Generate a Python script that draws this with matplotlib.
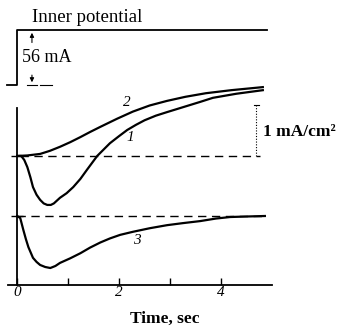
import matplotlib
matplotlib.use("Agg")
import matplotlib.pyplot as plt

plt.rcParams['font.family'] = ['Liberation Serif', 'DejaVu Serif']

# ---- data (time in s, current in mA/cm^2 relative to each trace baseline) ----
c1_t = [0, 0.08, 0.14, 0.2, 0.26, 0.31, 0.38, 0.45, 0.52, 0.59, 0.66, 0.72, 0.84, 0.97, 1.10, 1.24, 1.37, 1.57, 1.82, 2.0, 2.16, 2.33, 2.5, 2.72, 2.94, 3.2, 3.59, 3.84, 4.3, 4.82]
c1_v = [0, 0, -0.08, -0.22, -0.42, -0.61, -0.76, -0.86, -0.93, -0.96, -0.96, -0.93, -0.82, -0.73, -0.61, -0.45, -0.27, 0, 0.25, 0.39, 0.51, 0.61, 0.70, 0.79, 0.86, 0.94, 1.06, 1.14, 1.22, 1.29]

c2_t = [0, 0.2, 0.45, 0.64, 0.84, 1.04, 1.24, 1.43, 1.63, 1.96, 2.27, 2.6, 2.94, 3.3, 3.7, 4.2, 4.82]
c2_v = [0, 0.01, 0.04, 0.10, 0.18, 0.27, 0.37, 0.47, 0.57, 0.73, 0.87, 0.99, 1.08, 1.16, 1.23, 1.29, 1.35]

c3_t = [0, 0.06, 0.12, 0.17, 0.22, 0.31, 0.38, 0.45, 0.55, 0.65, 0.75, 0.84, 1.04, 1.24, 1.43, 1.63, 1.82, 2.02, 2.27, 2.6, 2.94, 3.25, 3.59, 3.9, 4.18, 4.5, 4.86]
c3_v = [0, -0.04, -0.27, -0.45, -0.61, -0.82, -0.90, -0.96, -1.00, -1.02, -0.98, -0.92, -0.83, -0.73, -0.62, -0.52, -0.44, -0.37, -0.31, -0.24, -0.18, -0.14, -0.10, -0.05, -0.02, -0.01, 0]

step_t = [-0.2, 0, 0, 4.9]
step_v = [0, 0, 1, 1]   # normalized inner-potential step

xtick_major = [0, 2, 4]
xtick_labels = ['0', '2', '4']
xtick_minor = [1, 3]

# ---- layout (vertical offsets of the stacked traces) ----
base12 = 2.53
base3 = 1.353
step_low = 3.92
step_amp = 1.08

fig = plt.figure(figsize=(3.46, 3.27), dpi=100)
ax = fig.add_axes([8/346, 42/327, 264/346, 285/327])
ax.set_xlim(-0.18, 5.0)
ax.set_ylim(0, 285/51)

for s in ['top', 'right']:
    ax.spines[s].set_visible(False)
ax.spines['left'].set_position(('data', 0))
ax.spines['left'].set_bounds(0, 3.47)
ax.spines['left'].set_linewidth(1.3)
ax.spines['bottom'].set_linewidth(1.3)

ax.set_xticks(xtick_major)
ax.set_xticklabels(xtick_labels, fontstyle='italic', fontsize=11)
ax.set_xticks(xtick_minor, minor=True)
ax.tick_params(axis='x', which='both', direction='in', length=5, width=1, pad=1)
ax.set_yticks([base3, base12])
ax.set_yticklabels([])
ax.tick_params(axis='y', direction='inout', length=9, width=1)
ax.set_xlabel('Time, sec', fontsize=12.5, fontweight='bold')
ax.xaxis.set_label_coords((165-8)/264, -0.09)

# baselines
ax.plot([0.06, 4.76], [base12, base12], ls=(0, (6, 4)), color='black', lw=1.0)
ax.plot([0.0, 4.86], [base3, base3], ls=(0, (6, 4)), color='black', lw=1.0)

# curves
ax.plot(c1_t, [v + base12 for v in c1_v], color='black', lw=1.6)
ax.plot(c2_t, [v + base12 for v in c2_v], color='black', lw=1.6)
ax.plot(c3_t, [v + base3 for v in c3_v], color='black', lw=1.6)

# inner potential step
ax.plot(step_t, [step_low + v * step_amp for v in step_v], color='black', lw=1.3, clip_on=False)
ax.annotate('', xy=(0.29, step_low + step_amp), xytext=(0.29, step_low + step_amp - 0.3),
            arrowprops=dict(arrowstyle='-|>', color='black', lw=0.8, mutation_scale=6))
ax.annotate('', xy=(0.29, step_low), xytext=(0.29, step_low + 0.25),
            arrowprops=dict(arrowstyle='-|>', color='black', lw=0.8, mutation_scale=6))
ax.plot([0.2, 0.38], [step_low, step_low], color='black', lw=0.8)
ax.plot([0.45, 0.68], [step_low, step_low], color='black', lw=0.8)
ax.text(0.10, step_low + 0.5 * step_amp, '56 mA', fontsize=13, va='center', ha='left')
ax.text(0.30, 5.25, 'Inner potential', fontsize=13.5, va='center', ha='left', clip_on=False)

# scale bar
ax.plot([4.69, 4.69], [base12, base12 + 1.0], color='black', lw=0.8, ls=(0, (1, 1.5)))
ax.plot([4.64, 4.74], [base12 + 1.0, base12 + 1.0], color='black', lw=0.8)
ax.text(4.83, base12 + 0.47, '1 mA/cm²', fontsize=12.5, fontweight='bold', va='center', ha='left', clip_on=False)

# curve labels
ax.text(2.16, 3.57, '2', fontsize=11, fontstyle='italic', ha='center', va='center')
ax.text(2.22, 2.90, '1', fontsize=11, fontstyle='italic', ha='center', va='center')
ax.text(2.35, 0.88, '3', fontsize=11, fontstyle='italic', ha='center', va='center')

fig.savefig('out.png', dpi=100)
